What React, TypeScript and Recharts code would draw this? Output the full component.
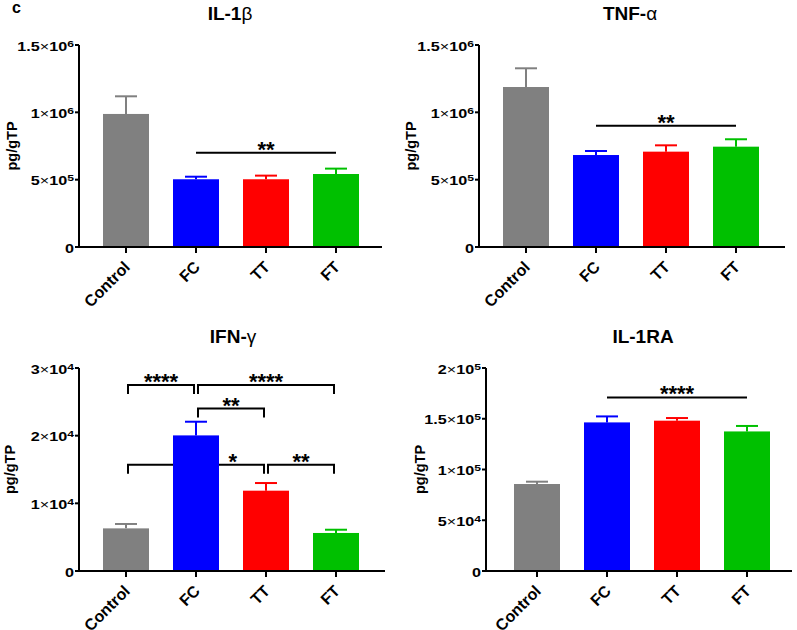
import React from 'react'
import { BarChart, Bar, XAxis, YAxis, Cell, ReferenceLine } from 'recharts'

const groups = ['Control', 'FC', 'TT', 'FT']
const groupColors = ['#808080', '#0000FF', '#FF0000', '#00C000']

// means and upper error (SEM)
const il1bMean = [988000, 503000, 503000, 542000]
const il1bErr = [131000, 19000, 27000, 40000]
const il1bTicks = [0, 500000, 1000000, 1500000]

const tnfMean = [1188000, 683000, 708000, 745000]
const tnfErr = [139000, 30000, 47000, 55000]
const tnfTicks = [0, 500000, 1000000, 1500000]

const ifnMean = [6300, 20040, 11870, 5620]
const ifnErr = [650, 2020, 1130, 480]
const ifnTicks = [0, 10000, 20000, 30000]

const il1raMean = [85700, 146400, 148100, 137500]
const il1raErr = [2300, 5900, 2600, 5400]
const il1raTicks = [0, 50000, 100000, 150000, 200000]

// significance marks
const il1bSig = [{ from: 'FC', to: 'FT', y: 700000, text: '**' }]
const tnfSig = [{ from: 'FC', to: 'FT', y: 900000, text: '**' }]
const ifnSig = [
  { from: 'Control', to: 'FC', y: 27500, text: '****', bracket: true },
  { from: 'FC', to: 'FT', y: 27500, text: '****', bracket: true },
  { from: 'FC', to: 'TT', y: 24000, text: '**', bracket: true },
  { from: 'Control', to: 'TT', y: 15700, text: '*', bracket: true, at: 0.77 },
  { from: 'TT', to: 'FT', y: 15700, text: '**', bracket: true },
]
const il1raSig = [{ from: 'FC', to: 'FT', y: 171000, text: '****' }]

const FONT = '"Liberation Sans", Arial, sans-serif'

function BarWithError(props: any) {
  const { x, y, width, height, fill, payload } = props
  const errTop = y - (payload.err * height) / payload.mean
  const cx = x + width / 2
  return (
    <g>
      <rect x={x} y={y} width={width} height={height} fill={fill} />
      <line x1={cx} y1={y} x2={cx} y2={errTop} stroke={fill} strokeWidth={2} />
      <line x1={cx - 11} y1={errTop} x2={cx + 11} y2={errTop} stroke={fill} strokeWidth={2} />
    </g>
  )
}

// Prism-style tick: 1.5×10^6, glyphs drawn a bit wide like the original
function SciTick(props: any) {
  const { x, y, payload } = props
  const v = payload.value
  let body: React.ReactNode = '0'
  if (v !== 0) {
    const exp = Math.floor(Math.log10(v) + 1e-9)
    const mant = Math.round((v / Math.pow(10, exp)) * 10) / 10
    body = (
      <>
        <tspan>{mant}</tspan>
        <tspan fontWeight="normal">×</tspan>
        <tspan>10</tspan>
        <tspan dy={-4} fontSize={9}>{exp}</tspan>
      </>
    )
  }
  return (
    <g transform={`translate(${x},${y}) scale(1.35,1)`}>
      <text x={0} y={0} dy={5.5} textAnchor="end" fontSize={12} fontWeight="bold" fill="#000">
        {body}
      </text>
    </g>
  )
}

function CatTick(props: any) {
  const { x, y, payload } = props
  return (
    <g transform={`translate(${x + 5},${y + 13})`}>
      <text textAnchor="end" transform="rotate(-45)" fontSize={16} fontWeight="bold" fill="#000">
        {payload.value}
      </text>
    </g>
  )
}

const sigShape = (s: any) => (p: any) => {
  const x1 = p.x1 + (s.bracket ? 2 : 0)
  const x2 = p.x2 - (s.bracket ? 2 : 0)
  const y = p.y1
  const d = s.bracket
    ? `M${x1},${y + 9}L${x1},${y}L${x2},${y}L${x2},${y + 9}`
    : `M${x1},${y}L${x2},${y}`
  const tx = x1 + (x2 - x1) * (s.at ?? 0.5)
  return (
    <g>
      <path d={d} stroke="#000" strokeWidth={2} fill="none" />
      <text x={tx} y={y + 4} textAnchor="middle" fontSize={22} fontWeight="bold" fill="#000">
        {s.text}
      </text>
    </g>
  )
}

function Panel(props: any) {
  const { left, top, width, height, margin, yWidth, xHeight, pad, mean, err, ticks, sig, labelX } = props
  const data = groups.map((name, i) => ({ name, mean: mean[i], err: err[i] }))
  const axisLine = { stroke: '#000', strokeWidth: 2 }
  return (
    <div style={{ position: 'absolute', left, top }}>
      <BarChart width={width} height={height} data={data} margin={margin}>
        <XAxis
          dataKey="name"
          interval={0}
          height={xHeight}
          padding={pad}
          axisLine={axisLine}
          tickLine={axisLine}
          tickSize={6}
          tick={<CatTick />}
        />
        <YAxis
          width={yWidth}
          domain={[0, ticks[ticks.length - 1]]}
          ticks={ticks}
          interval={0}
          axisLine={axisLine}
          tickLine={axisLine}
          tickSize={4}
          tickMargin={1}
          tick={<SciTick />}
          label={{
            content: (lp: any) => {
              const vb = lp.viewBox
              const cy = vb.y + vb.height / 2
              return (
                <text
                  x={labelX}
                  y={cy}
                  transform={`rotate(-90 ${labelX} ${cy})`}
                  textAnchor="middle"
                  dominantBaseline="central"
                  fontSize={14.5}
                  fontWeight="bold"
                  fill="#000"
                >
                  pg/gTP
                </text>
              )
            },
          }}
        />
        {sig.map((s: any, i: number) => (
          <ReferenceLine
            key={i}
            zIndex={100}
            segment={[
              { x: s.from, y: s.y },
              { x: s.to, y: s.y },
            ]}
            shape={sigShape(s)}
          />
        ))}
        <Bar dataKey="mean" barSize={46} isAnimationActive={false} shape={BarWithError}>
          {data.map((d, i) => (
            <Cell key={d.name} fill={groupColors[i]} />
          ))}
        </Bar>
      </BarChart>
    </div>
  )
}

function Title({ x, top, children }: any) {
  return (
    <div
      style={{
        position: 'absolute',
        left: x - 100,
        top,
        width: 200,
        textAlign: 'center',
        fontSize: 19,
        lineHeight: '19px',
        fontWeight: 'bold',
      }}
    >
      {children}
    </div>
  )
}

export default function App() {
  return (
    <div
      style={{
        position: 'absolute',
        left: 0,
        top: 0,
        width: 797,
        height: 630,
        background: '#fff',
        fontFamily: FONT,
        color: '#000',
        overflow: 'hidden',
      }}
    >
      <div style={{ position: 'absolute', left: 12, top: 0, fontSize: 16, lineHeight: '16px', fontWeight: 'bold' }}>c</div>
      <Title x={230} top={4}>
        IL-1<span style={{ fontWeight: 'normal' }}>β</span>
      </Title>
      <Title x={630} top={4}>
        TNF-<span style={{ fontWeight: 'normal' }}>α</span>
      </Title>
      <Title x={233} top={327}>
        IFN-<span style={{ fontWeight: 'normal' }}>γ</span>
      </Title>
      <Title x={643} top={327}>
        IL-1RA
      </Title>

      <Panel
        left={0}
        top={0}
        width={400}
        height={310}
        margin={{ top: 45, right: 18, left: 0, bottom: 0 }}
        yWidth={79}
        xHeight={63}
        pad={{ left: 12, right: 11 }}
        mean={il1bMean}
        err={il1bErr}
        ticks={il1bTicks}
        sig={il1bSig}
        labelX={12}
      />
      <Panel
        left={400}
        top={0}
        width={397}
        height={310}
        margin={{ top: 45, right: 12, left: 0, bottom: 0 }}
        yWidth={79}
        xHeight={63}
        pad={{ left: 12, right: 14 }}
        mean={tnfMean}
        err={tnfErr}
        ticks={tnfTicks}
        sig={tnfSig}
        labelX={11}
      />
      <Panel
        left={0}
        top={310}
        width={400}
        height={320}
        margin={{ top: 58, right: 15, left: 0, bottom: 0 }}
        yWidth={79}
        xHeight={59}
        pad={{ left: 12, right: 14 }}
        mean={ifnMean}
        err={ifnErr}
        ticks={ifnTicks}
        sig={ifnSig}
        labelX={10}
      />
      <Panel
        left={400}
        top={310}
        width={397}
        height={320}
        margin={{ top: 58, right: 5, left: 0, bottom: 0 }}
        yWidth={86}
        xHeight={59}
        pad={{ left: 16, right: 10 }}
        mean={il1raMean}
        err={il1raErr}
        ticks={il1raTicks}
        sig={il1raSig}
        labelX={20}
      />
    </div>
  )
}
